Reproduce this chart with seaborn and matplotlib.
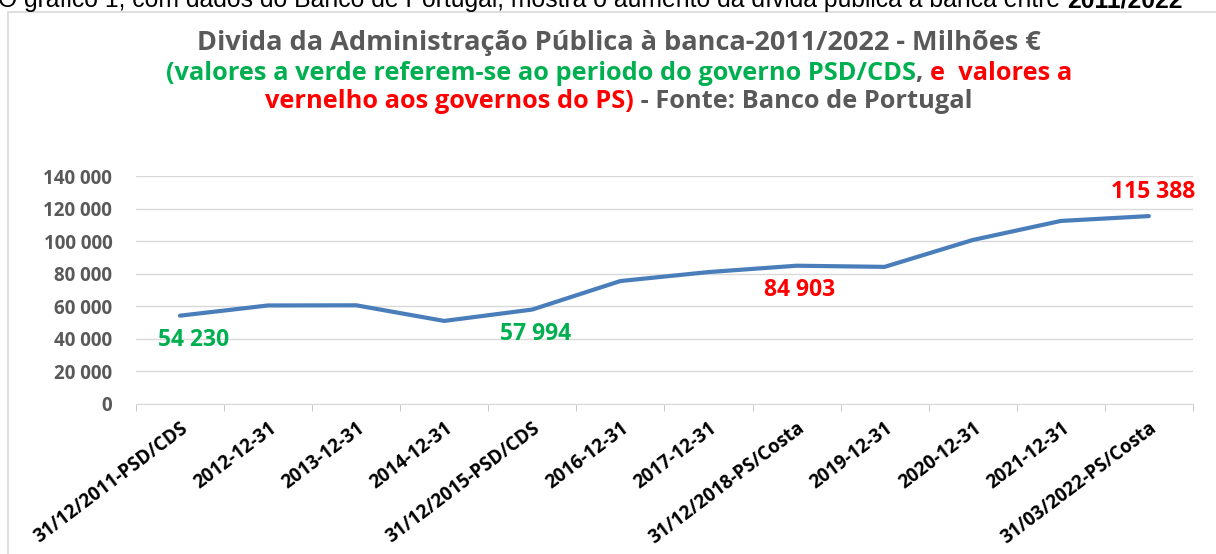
import matplotlib
matplotlib.use('Agg')
import matplotlib.pyplot as plt
import seaborn as sns
import pandas as pd
from matplotlib.offsetbox import TextArea, HPacker, AnchoredOffsetbox
from matplotlib.patches import Rectangle

# data (milhões de euros)
datas = ['31/12/2011-PSD/CDS', '2012-12-31', '2013-12-31', '2014-12-31',
         '31/12/2015-PSD/CDS', '2016-12-31', '2017-12-31', '31/12/2018-PS/Costa',
         '2019-12-31', '2020-12-31', '2021-12-31', '31/03/2022-PS/Costa']
divida = [54230, 60500, 60600, 51000, 57994, 75500, 81000, 84903,
          84200, 100700, 112400, 115388]
# which points carry a label, and in which colour
rotulos = {0: '#00B050', 4: '#00B050', 7: '#FF0000', 11: '#FF0000'}

df = pd.DataFrame({'data': datas, 'valor': divida})

sns.set_style('white')
plt.rcParams['font.family'] = ['Open Sans', 'DejaVu Sans']

GRAY = '#595959'
GREEN = '#00B050'
RED = '#FF0000'

fig = plt.figure(figsize=(12.16, 5.54), dpi=100)
ax = fig.add_axes([0.1118, 0.2708, 0.8692, 0.4115])

sns.lineplot(data=df, x='data', y='valor', ax=ax, color='#4A7EBB',
             linewidth=3, sort=False)

ax.set_ylim(0, 140000)
ax.set_xlim(-0.5, len(datas) - 0.5)
ax.set_yticks(range(0, 140001, 20000))
ax.set_yticklabels([f'{v:,}'.replace(',', ' ') for v in range(0, 140001, 20000)],
                   fontsize=13.5, fontweight='bold', color=GRAY)
ax.set_xticks(range(len(datas)))
ax.set_xticklabels(datas, rotation=37, ha='right', rotation_mode='anchor',
                   fontsize=13.5, fontweight='bold', color='black')
ax.set_xticks([i - 0.5 for i in range(len(datas) + 1)], minor=True)
ax.tick_params(axis='x', which='major', length=0, pad=10)
ax.tick_params(axis='x', which='minor', length=5, color='#BFBFBF', direction='out', bottom=True)
ax.tick_params(axis='y', length=0, pad=17)
ax.grid(axis='y', color='#D9D9D9', linewidth=1)
ax.set_axisbelow(True)
for s in ['top', 'right', 'left']:
    ax.spines[s].set_visible(False)
ax.spines['bottom'].set_color('#D9D9D9')
ax.set_xlabel('')
ax.set_ylabel('')

# data labels
for i, cor in rotulos.items():
    txt = f'{divida[i]:,}'.replace(',', ' ')
    if i == 11:
        ax.annotate(txt, (i, divida[i]), xytext=(3, 9), textcoords='offset points',
                    ha='center', va='bottom', color=cor, fontsize=16.5, fontweight='bold')
    elif i == 0:
        ax.annotate(txt, (i, divida[i]), xytext=(10, -9), textcoords='offset points',
                    ha='center', va='top', color=cor, fontsize=16.5, fontweight='bold')
    else:
        ax.annotate(txt, (i, divida[i]), xytext=(2, -9), textcoords='offset points',
                    ha='center', va='top', color=cor, fontsize=16.5, fontweight='bold')

# chart area border
fig.patches.append(Rectangle((8 / 1216, -0.1), 1.2, 1 - 12 / 554 + 0.1,
                             transform=fig.transFigure, fill=False,
                             edgecolor='#D9D9D9', linewidth=1.2))

# text above the chart (cut at the top in the original screenshot)
intro = HPacker(children=[
    TextArea('O gráfico 1, com dados do Banco de Portugal, mostra o aumento da dívida pública à banca entre ',
             textprops=dict(color='black', fontsize=17.8, family=['Liberation Sans'])),
    TextArea('2011/2022', textprops=dict(color='black', fontsize=17.8, fontweight='bold',
                                         family=['Liberation Sans'])),
], align='baseline', pad=0, sep=0)
fig.add_artist(AnchoredOffsetbox(loc='lower left', child=intro, frameon=False, pad=0,
                                 borderpad=0, bbox_to_anchor=(-2 / 1216, 1 - 12 / 554),
                                 bbox_transform=fig.transFigure))


def linha(partes, y, tamanho):
    box = HPacker(children=[TextArea(t, textprops=dict(color=c, fontsize=tamanho, fontweight='bold'))
                            for t, c in partes], align='baseline', pad=0, sep=0)
    fig.add_artist(AnchoredOffsetbox(loc='center', child=box, frameon=False, pad=0,
                                     borderpad=0, bbox_to_anchor=(619 / 1216, 1 - y / 554),
                                     bbox_transform=fig.transFigure))


linha([('Divida da Administração Pública à banca-2011/2022 - Milhões €', GRAY)], 43, 19.5)
linha([('(valores a verde referem-se ao periodo do governo PSD/CDS', GREEN),
       (', ', GRAY), ('e  valores a', RED)], 73, 18.3)
linha([('vernelho aos governos do PS)', RED), (' - Fonte: Banco de Portugal', GRAY)], 102, 18.3)

fig.savefig('out.png', dpi=100)
